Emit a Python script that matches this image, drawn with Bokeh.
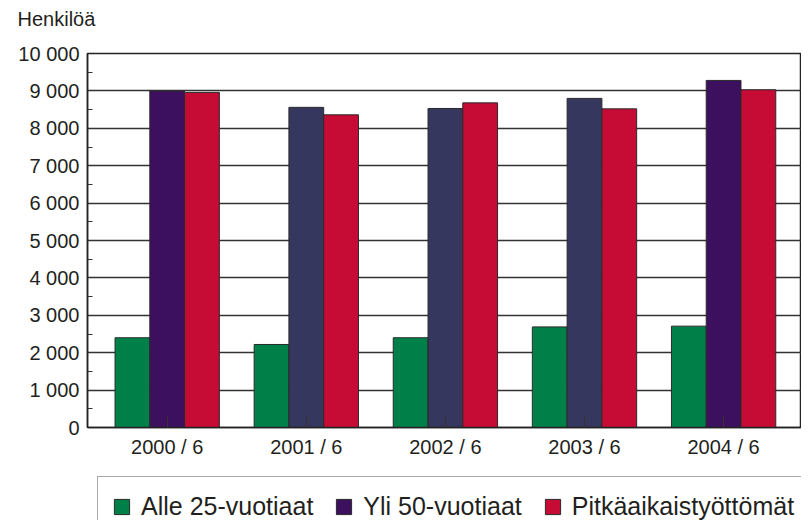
from bokeh.plotting import figure
from bokeh.models import ColumnDataSource, Range1d, FixedTicker, Legend, LegendItem, Title
from bokeh.layouts import column
from bokeh.transform import dodge
from bokeh.embed import file_html
from bokeh.resources import INLINE

categories = ["2000 / 6", "2001 / 6", "2002 / 6", "2003 / 6", "2004 / 6"]
alle25 = [2400, 2220, 2400, 2690, 2710]
yli50 = [9000, 8560, 8530, 8800, 9280]
pitka = [8960, 8360, 8680, 8520, 9030]
series_names = ["Alle 25-vuotiaat", "Yli 50-vuotiaat", "Pitkäaikaistyöttömät"]
series_colors = ["#008049", "#3c0f5f", "#c60c35"]
yli50_colors = ["#3c0f5f", "#35375f", "#35375f", "#35375f", "#3c0f5f"]
y_ticks = [0, 1000, 2000, 3000, 4000, 5000, 6000, 7000, 8000, 9000, 10000]
y_tick_labels = ["0", "1 000", "2 000", "3 000", "4 000", "5 000", "6 000",
                 "7 000", "8 000", "9 000", "10 000"]
y_minor = [500, 1500, 2500, 3500, 4500, 5500, 6500, 7500, 8500, 9500]

FONT = "Liberation Sans"
TXT = "#231f20"
EDGE = "#2a2a2a"

xs = list(range(len(categories)))
src = ColumnDataSource(dict(
    x=xs,
    alle25=alle25,
    yli50=yli50,
    pitka=pitka,
    c2=yli50_colors,
))

p = figure(width=801, height=470, output_backend="svg", toolbar_location=None,
           x_range=Range1d(-0.573, 4.56), y_range=Range1d(0, 10000),
           min_border_left=87, min_border_right=0, min_border_top=53,
           min_border_bottom=43)

w = 0.25
p.vbar(x=dodge("x", -w, range=p.x_range), top="alle25", width=w, source=src,
       fill_color=series_colors[0], line_color=EDGE, line_width=1)
p.vbar(x=dodge("x", 0, range=p.x_range), top="yli50", width=w, source=src,
       fill_color="c2", line_color=EDGE, line_width=1)
p.vbar(x=dodge("x", w, range=p.x_range), top="pitka", width=w, source=src,
       fill_color=series_colors[2], line_color=EDGE, line_width=1)

# axes
p.xaxis.ticker = FixedTicker(ticks=xs)
p.xaxis.major_label_overrides = {i: c for i, c in zip(xs, categories)}
p.xaxis.major_tick_in = 11
p.xaxis.major_tick_out = 0
p.xaxis.minor_tick_line_color = None
p.xaxis.major_label_standoff = 8

p.yaxis.ticker = FixedTicker(ticks=y_ticks, minor_ticks=y_minor)
p.yaxis.major_label_overrides = {t: l for t, l in zip(y_ticks, y_tick_labels)}
p.yaxis.major_tick_in = 0
p.yaxis.major_tick_out = 0
p.yaxis.minor_tick_in = 5
p.yaxis.minor_tick_out = 0
p.yaxis.minor_tick_line_color = "#333333"
p.yaxis.major_label_standoff = 8

for ax in (p.xaxis, p.yaxis):
    ax.axis_line_color = "#222222"
    ax.axis_line_width = 1.5
    ax.major_tick_line_color = "#333333"
    ax.major_label_text_font = FONT
    ax.major_label_text_font_size = "20px"
    ax.major_label_text_color = TXT

p.xgrid.grid_line_color = None
p.ygrid.ticker = FixedTicker(ticks=y_ticks)
p.ygrid.grid_line_color = "#333333"
p.ygrid.grid_line_width = 1.5

p.outline_line_color = "#222222"
p.outline_line_width = 1.5
p.background_fill_color = "white"
p.border_fill_color = "white"

# unit label as the (outer) main title
p.title.text = "Henkilöä"
p.title.text_font = FONT
p.title.text_font_size = "20px"
p.title.text_font_style = "normal"
p.title.text_color = TXT
p.title.align = "left"
p.title.offset = -70
p.title.standoff = 0

# inner spacer title keeps the unit label clear of the frame
spacer = Title(text=" ", text_font=FONT, text_font_size="16px", standoff=5)
p.add_layout(spacer, "above")

# legend strip below the chart (swatch renderers use the same data, kept off-view)
lg = figure(width=801, height=50, output_backend="svg", toolbar_location=None,
            x_range=Range1d(-20, -19), y_range=Range1d(0, 1),
            x_axis_type=None, y_axis_type=None, min_border=0)
lg.outline_line_color = None
lg.xgrid.grid_line_color = None
lg.ygrid.grid_line_color = None
s1 = lg.vbar(x="x", top="alle25", width=w, source=src,
             fill_color=series_colors[0], line_color=EDGE, line_width=1)
s2 = lg.vbar(x="x", top="yli50", width=w, source=src,
             fill_color="c2", line_color=EDGE, line_width=1)
s3 = lg.vbar(x="x", top="pitka", width=w, source=src,
             fill_color=series_colors[2], line_color=EDGE, line_width=1)

legend = Legend(items=[LegendItem(label=n, renderers=[r], index=0)
                       for n, r in zip(series_names, [s1, s2, s3])],
                orientation="horizontal", location=(10, -16))
legend.label_text_font = FONT
legend.label_text_font_size = "25px"
legend.label_text_color = TXT
legend.glyph_width = 19
legend.glyph_height = 19
legend.label_height = 30
legend.label_standoff = 10
legend.spacing = 21
legend.padding = 14
legend.margin = 0
legend.border_line_color = "#555555"
legend.border_line_width = 1.5
legend.background_fill_alpha = 1
lg.add_layout(legend, "center")

layout = column(p, lg, spacing=0)
open("out.html", "w").write(file_html(layout, INLINE))
